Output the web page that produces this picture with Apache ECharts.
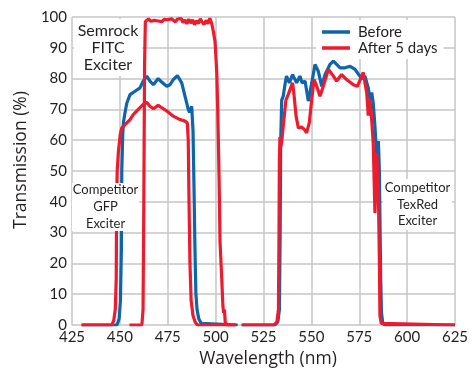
<!DOCTYPE html>
<html>
<head>
<meta charset="utf-8">
<script src="https://cdn.jsdelivr.net/npm/echarts@6/dist/echarts.min.js"></script>
<style>
  html, body { margin: 0; padding: 0; background: #fff; }
  #chart { width: 476px; height: 374px; }
</style>
</head>
<body>
<div id="chart"></div>
<script>
// x axis ticks (nm) and y axis ticks (%)
const xTicks = [425, 450, 475, 500, 525, 550, 575, 600, 625]
const yTicks = [0, 10, 20, 30, 40, 50, 60, 70, 80, 90, 100]

// Before - competitor GFP exciter  [wavelength, transmission]
const beforeGfp = [[430,0],[448.5,0],[449.6,2],[450.3,8],[450.8,25],[451,50],[451.5,62],[451.9,66],[452.7,69],[453.6,72],[455.3,74.8],[457.9,75.9],[460.5,77],[462.2,79.2],[464,80.8],[465.7,79.2],[467.5,78],[470,80],[471.8,78.9],[474.5,77.5],[476.2,78],[477.9,79.7],[480,81],[482.3,78.6],[484,74.3],[485.7,70],[486.4,69],[487.5,71],[488.2,63],[488.7,45],[489.2,25],[489.7,10],[490.3,5],[491.2,2],[492.5,0.5],[493.5,0],[511.5,0]]
// Before - competitor TexRed exciter
const beforeTex = [[513.5,0],[531,0],[532.5,1],[533.3,5],[533.7,30],[534,60],[534.5,73],[535.3,74.3],[536.2,78],[537,80.8],[538.5,78.6],[540.2,81.3],[542.3,78.6],[544,80.8],[545.2,78.6],[546.7,79.2],[548.4,72.7],[550.2,78.6],[551.9,84.6],[553.6,82.4],[555.4,77.5],[557.1,81.3],[559.7,84.6],[561.5,85.7],[563.2,84.6],[565,83.5],[567.6,83.5],[570.2,84],[572.8,83],[574.5,81.5],[576.3,80],[578,80.8],[579.7,77],[580.6,73.2],[581.5,75.5],[582.3,72],[583.2,64.5],[584.1,54.8],[585,59.7],[585.5,50],[585.9,30],[586.2,15],[586.6,4],[587.3,0.5],[588.5,0],[625,0]]

// After 5 days - competitor GFP exciter
const afterGfp = [[430,0],[445.8,0],[446.8,1.5],[447.6,5],[448.1,15],[448.3,40],[448.6,50],[449.2,56],[450.2,62],[451,64],[453.6,65.6],[455.3,66.7],[457,68.3],[459.6,70],[462.2,71.6],[464,72.3],[465.7,71],[467.5,70.2],[470,71.3],[472.7,70.2],[475.3,69.1],[477.9,67.8],[481.4,66.7],[484,66.2],[485.2,65.6],[485.7,60],[486.1,40],[486.6,20],[487.2,8],[488.2,3],[489.3,1],[490.5,0],[510.5,0]]
// After 5 days - Semrock FITC exciter
const afterFitc = [[455,0],[461.5,0],[462.1,5],[462.5,40],[462.9,85],[463.3,98.5],[464,98.8],[465,99.4],[466,98.6],[467,99.1],[468,98.9],[469,99.3],[470,98.7],[471,99],[472,98.5],[473,99.2],[474,98.8],[475,99.1],[476,98.6],[477,99.4],[478,98.9],[479,98.4],[480,99.3],[481,98.7],[482,99.5],[483,98.2],[484,99],[485,97.8],[486,99.3],[487,98],[488,99.1],[489,97.5],[490,98.8],[491,97.9],[492,99.4],[493,98.3],[494,97.6],[495,98.9],[496,97.8],[497,99.6],[497.9,98],[498.6,96],[499.7,92],[500.6,82],[501.1,70],[501.8,48],[502.3,27],[503.2,15],[503.8,6],[504.2,4],[504.6,5],[505,1],[505.6,0],[510,0]]
// After 5 days - competitor TexRed exciter
const afterTex = [[514,0],[530.5,0],[532,1],[532.8,5],[533.1,30],[533.3,55],[533.6,61],[534.1,58],[534.6,60],[535.3,64.5],[536.7,73],[537.9,74.8],[539.2,77],[540.2,78.6],[541,74.3],[542,67.8],[543.2,64],[544.9,64.3],[546.3,63.5],[547.5,62.4],[548.9,65.6],[550.2,73.2],[551.4,79.7],[552.8,77.5],[554.5,74.3],[556.2,77.5],[558.9,83],[561.5,80.8],[563.2,79.2],[565.8,81.3],[568.4,79.7],[571.9,78],[574,77.5],[576.3,80.8],[577.1,82],[578,78.6],[578.9,75.4],[579.7,68],[580.6,73.2],[581.5,66.7],[582.3,59],[583.2,36.4],[583.6,45],[584.1,55.9],[585,43],[585.5,21],[585.8,3],[586.5,0.5],[587.5,0],[625,0]]

const BLUE = '#0e65ad'
const RED = '#ec1b2e'
const FONT = 'Lato'
const NAME_FONT = 'Open Sans'
const TXT = '#231f20'

function lineSeries(name, data, color) {
  return {
    name: name,
    type: 'line',
    data: data,
    showSymbol: false,
    symbol: 'none',
    smooth: false,
    color: color,
    lineStyle: { color: color, width: 3.2 },
    emphasis: { disabled: true },
  }
}

// white box with centred text, drawn above grid and lines
function labelBox(x, y, w, h, text, size, lh) {
  return {
    type: 'group',
    children: [
      { type: 'rect', z: 100, shape: { x: x, y: y, width: w, height: h }, style: { fill: '#fff' } },
      {
        type: 'text',
        z: 101,
        x: x + w / 2,
        y: y + h / 2,
        style: {
          text: text,
          font: size + 'px ' + FONT,
          fill: TXT,
          align: 'center',
          verticalAlign: 'middle',
          lineHeight: lh,
        },
      },
    ],
  }
}

let myChart = echarts.init(document.getElementById('chart'))
let option = {
  animation: false,
  textStyle: { fontFamily: FONT },
  grid: { left: 72, right: 21, top: 17, bottom: 49, containLabel: false, outerBoundsMode: 'none' },
  xAxis: {
    type: 'value',
    min: xTicks[0],
    max: xTicks[xTicks.length - 1],
    interval: 25,
    name: 'Wavelength (nm)',
    nameLocation: 'middle',
    nameGap: 25,
    nameTextStyle: { fontSize: 17.5, color: TXT, fontFamily: NAME_FONT, padding: [0, 0, 0, 9] },
    axisLine: { show: false },
    axisTick: { show: false },
    axisLabel: { fontSize: 15, color: TXT, margin: 5, fontFamily: FONT },
    splitLine: { show: true, lineStyle: { color: '#c6c6c6', width: 1.5 } },
  },
  yAxis: {
    type: 'value',
    min: yTicks[0],
    max: yTicks[yTicks.length - 1],
    interval: 10,
    name: 'Transmission (%)',
    nameLocation: 'middle',
    nameGap: 38,
    nameTextStyle: { fontSize: 17.5, color: TXT, fontFamily: NAME_FONT, padding: [0, 0, 0, 22] },
    axisLine: { show: false },
    axisTick: { show: false },
    axisLabel: { fontSize: 15, color: TXT, margin: 5, fontFamily: FONT },
    splitLine: { show: true, lineStyle: { color: '#c6c6c6', width: 1.5 } },
  },
  legend: {
    data: ['Before', 'After 5 days'],
    orient: 'vertical',
    left: 316,
    top: 20,
    padding: [4, 6, 3, 6],
    backgroundColor: '#fff',
    icon: 'rect',
    itemWidth: 28,
    itemHeight: 3.5,
    itemGap: 0,
    selectedMode: false,
    textStyle: { fontSize: 15, color: TXT, lineHeight: 16, fontFamily: FONT, padding: [0, 0, 0, 3] },
  },
  series: [
    lineSeries('Before', beforeGfp, BLUE),
    lineSeries('Before', beforeTex, BLUE),
    lineSeries('After 5 days', afterGfp, RED),
    lineSeries('After 5 days', afterTex, RED),
    lineSeries('After 5 days', afterFitc, RED),
  ],
  graphic: [
    labelBox(74, 19, 68, 57, 'Semrock\nFITC\nExciter', 16, 17),
    labelBox(72, 183, 67, 48, 'Competitor\nGFP\nExciter', 13, 16.8),
    labelBox(383, 179, 69, 51, 'Competitor\nTexRed\nExciter', 13, 16.4),
  ],
}
myChart.setOption(option)
</script>
</body>
</html>
